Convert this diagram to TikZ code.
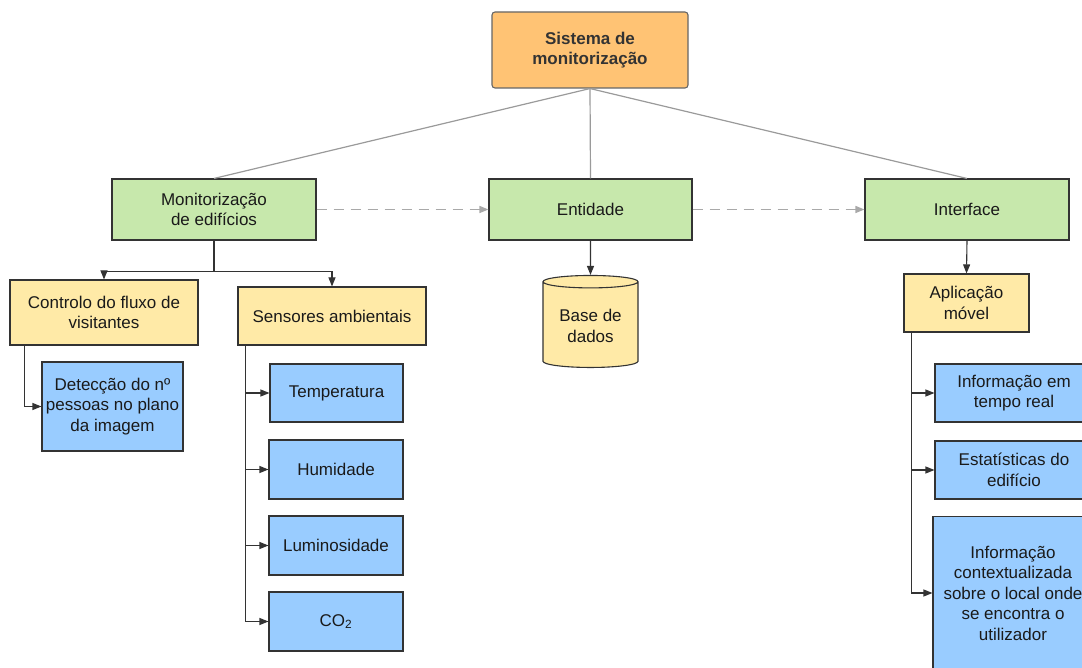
\documentclass[tikz,border=0pt]{standalone}
\usepackage{fontspec}
\setmainfont{Liberation Sans}
\usetikzlibrary{arrows.meta,shapes.geometric}
\definecolor{topfill}{HTML}{FFC374}
\definecolor{greenfill}{HTML}{C7E8AC}
\definecolor{yellowfill}{HTML}{FFEAA7}
\definecolor{bluefill}{HTML}{99CCFF}
\definecolor{edge}{HTML}{333333}
\definecolor{txt}{HTML}{1A1A1A}
\definecolor{soft}{HTML}{9A9A9A}
\tikzset{
  base/.style={draw=edge, line width=1.1pt, inner sep=2pt, align=center,
    text=txt, font=\fontsize{17}{20.5}\selectfont},
  topbox/.style={base, fill=topfill, draw=black!60, rounded corners=3pt,
    font=\fontsize{17}{20.5}\selectfont\bfseries, text=black!80},
  greenbox/.style={base, fill=greenfill},
  yellowbox/.style={base, fill=yellowfill},
  bluebox/.style={base, fill=bluefill},
  arr/.style={draw=edge, line width=1.1pt, -{Triangle[length=9pt,width=7pt]}},
  link/.style={draw=edge, line width=1.1pt},
  softlink/.style={draw=soft, line width=1.2pt},
  dasharr/.style={draw=soft!85, line width=1.4pt, dash pattern=on 10pt off 7pt,
    -{Triangle[length=9pt,width=7pt]}},
}
\begin{document}
\begin{tikzpicture}[x=1pt, y=-1pt]
\path[use as bounding box] (0,0) rectangle (1082,668);
\begin{scope}
\clip (0,0) rectangle (1082,668);

% root
\node[topbox, minimum width=196pt, minimum height=76pt] (root) at (590,50)
  {Sistema de\\monitorização};

% second level
\node[greenbox, minimum width=204pt, minimum height=61pt] (mon) at (214,209.5)
  {Monitorização\\de edifícios};
\node[greenbox, minimum width=203pt, minimum height=61pt] (ent) at (590.5,209.5)
  {Entidade};
\node[greenbox, minimum width=204pt, minimum height=61pt] (itf) at (967,209.5)
  {Interface};

% third level
\node[yellowbox, minimum width=188pt, minimum height=65pt] (ctrl) at (104,312.5)
  {Controlo do fluxo de\\visitantes};
\node[yellowbox, minimum width=188pt, minimum height=58pt] (sens) at (332,316)
  {Sensores ambientais};
\node[yellowbox, minimum width=125pt, minimum height=58pt] (app) at (966.5,303)
  {Aplicação\\móvel};
\node[cylinder, shape border rotate=90, aspect=0.18, draw=edge, line width=1.1pt,
  fill=yellowfill, minimum width=95pt, minimum height=92pt, align=center,
  text=txt, font=\fontsize{17}{20.5}\selectfont] (db) at (590.5,326)
  {Base de\\dados};

% leaves
\node[bluebox, minimum width=141pt, minimum height=89pt] (det) at (112.5,406.5)
  {Detecção do nº\\pessoas no plano\\da imagem};
\node[bluebox, minimum width=133pt, minimum height=58pt] (temp) at (336.5,393)
  {Temperatura};
\node[bluebox, minimum width=134pt, minimum height=59pt] (hum) at (336,469.5)
  {Humidade};
\node[bluebox, minimum width=134pt, minimum height=59pt] (lum) at (336,545.5)
  {Luminosidade};
\node[bluebox, minimum width=134pt, minimum height=59pt] (co) at (336,621.5)
  {CO\textsubscript{2}};
\node[bluebox, minimum width=158pt, minimum height=58pt] (real) at (1014,393)
  {Informação em\\tempo real};
\node[bluebox, minimum width=158pt, minimum height=58pt] (stat) at (1014,470)
  {Estatísticas do\\edifício};
\node[bluebox, minimum width=160pt, minimum height=153pt] (ctx) at (1013,593)
  {Informação\\contextualizada\\sobre o local onde\\se encontra o\\utilizador};

% root links
\draw[softlink] (root.south) -- (mon.north);
\draw[softlink] (root.south) -- (ent.north);
\draw[softlink] (root.south) -- (itf.north);

% dashed flow between the main blocks
\draw[dasharr] (mon.east) -- (ent.west);
\draw[dasharr] (ent.east) -- (itf.west);

% building monitoring branch
\draw[link] (mon.south) -- ++(0,31) coordinate (split);
\draw[arr] (split) -| (ctrl.north);
\draw[arr] (split) -| (sens.north);
\draw[arr] ([xshift=15pt]ctrl.south west) |- (det.west);
\foreach \leaf in {temp,hum,lum,co}
  \draw[arr] ([xshift=8pt]sens.south west) |- (\leaf.west);

% entity and interface branches
\draw[arr] (ent.south) -- (db.north);
\draw[arr] (itf.south) -- (app.north);
\foreach \leaf in {real,stat,ctx}
  \draw[arr] ([xshift=8pt]app.south west) |- (\leaf.west);
\end{scope}
\end{tikzpicture}
\end{document}
